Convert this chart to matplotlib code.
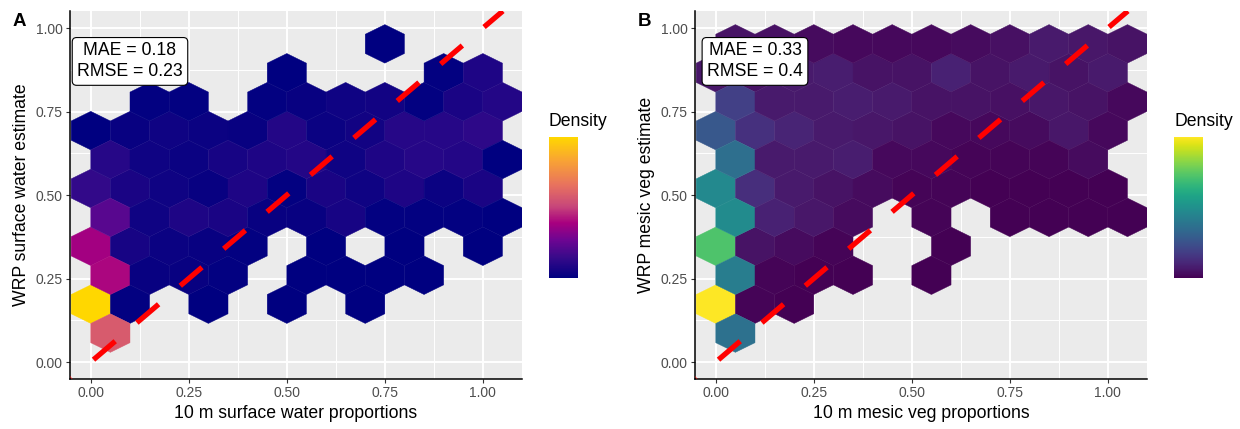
import numpy as np
import matplotlib
matplotlib.use("Agg")
import matplotlib.pyplot as plt
from matplotlib.colors import LinearSegmentedColormap

plt.rcParams['font.family'] = ['Liberation Sans', 'DejaVu Sans']

# ------------------------------------------------------------------ data
# centre height of each hexagon row (same lattice in both panels)
ROW_Y = [0.087, 0.173, 0.260, 0.346, 0.433, 0.520, 0.606, 0.693, 0.779, 0.866, 0.953]

# Panel A: surface water -- x centres of filled hexagons per row, and density
A_ROWS_X = [
    [0.05],
    [0.0, 0.1, 0.3, 0.5, 0.7],
    [0.05, 0.15, 0.25, 0.35, 0.55, 0.65, 0.75, 0.85],
    [0.0, 0.1, 0.2, 0.3, 0.4, 0.6, 0.8, 1.0],
    [0.05, 0.15, 0.25, 0.35, 0.45, 0.55, 0.65, 0.75, 0.85, 0.95, 1.05],
    [0.0, 0.1, 0.2, 0.3, 0.4, 0.5, 0.6, 0.7, 0.8, 0.9, 1.0],
    [0.05, 0.15, 0.25, 0.35, 0.45, 0.55, 0.65, 0.75, 0.85, 0.95, 1.05],
    [0.0, 0.1, 0.2, 0.3, 0.4, 0.5, 0.6, 0.7, 0.8, 0.9, 1.0],
    [0.15, 0.25, 0.45, 0.55, 0.65, 0.75, 0.85, 0.95, 1.05],
    [0.5, 0.9, 1.0],
    [0.75],
]
A_ROWS_D = [
    [0.58],
    [1.00, 0.01, 0.00, 0.00, 0.00],
    [0.40, 0.02, 0.02, 0.01, 0.00, 0.00, 0.00, 0.00],
    [0.38, 0.06, 0.03, 0.02, 0.01, 0.00, 0.00, 0.00],
    [0.22, 0.04, 0.08, 0.07, 0.02, 0.02, 0.06, 0.01, 0.01, 0.01, 0.00],
    [0.13, 0.07, 0.04, 0.02, 0.08, 0.01, 0.07, 0.04, 0.08, 0.03, 0.07],
    [0.10, 0.04, 0.03, 0.06, 0.08, 0.09, 0.04, 0.08, 0.10, 0.09, 0.00],
    [0.00, 0.02, 0.04, 0.03, 0.02, 0.09, 0.03, 0.05, 0.10, 0.10, 0.12],
    [0.01, 0.01, 0.01, 0.02, 0.04, 0.05, 0.01, 0.07, 0.09],
    [0.00, 0.01, 0.08],
    [0.00],
]

# Panel B: mesic vegetation
B_ROWS_X = [
    [0.05],
    [0.0, 0.1, 0.2],
    [0.05, 0.15, 0.25, 0.35, 0.55],
    [0.0, 0.1, 0.2, 0.3, 0.6],
    [0.05, 0.15, 0.25, 0.35, 0.55, 0.75, 0.85, 0.95, 1.05],
    [0.0, 0.1, 0.2, 0.3, 0.4, 0.5, 0.6, 0.7, 0.8, 0.9, 1.0],
    [0.05, 0.15, 0.25, 0.35, 0.45, 0.55, 0.65, 0.75, 0.85, 0.95],
    [0.0, 0.1, 0.2, 0.3, 0.4, 0.5, 0.6, 0.7, 0.8, 0.9, 1.0],
    [0.05, 0.15, 0.25, 0.35, 0.45, 0.55, 0.65, 0.75, 0.85, 0.95, 1.05],
    [0.0, 0.1, 0.2, 0.3, 0.4, 0.5, 0.6, 0.7, 0.8, 0.9, 1.0],
    [0.05, 0.15, 0.25, 0.35, 0.45, 0.55, 0.65, 0.75, 0.85, 0.95, 1.05],
]
B_ROWS_D = [
    [0.37],
    [1.00, 0.01, 0.00],
    [0.42, 0.01, 0.00, 0.00, 0.00],
    [0.72, 0.05, 0.03, 0.01, 0.00],
    [0.48, 0.09, 0.06, 0.03, 0.01, 0.00, 0.00, 0.00, 0.00],
    [0.47, 0.13, 0.07, 0.05, 0.03, 0.01, 0.01, 0.00, 0.00, 0.00, 0.00],
    [0.36, 0.07, 0.07, 0.08, 0.02, 0.02, 0.01, 0.01, 0.01, 0.03],
    [0.27, 0.14, 0.10, 0.07, 0.06, 0.05, 0.02, 0.02, 0.03, 0.06, 0.02],
    [0.19, 0.07, 0.07, 0.08, 0.07, 0.05, 0.05, 0.04, 0.06, 0.05, 0.02],
    [0.06, 0.05, 0.07, 0.08, 0.05, 0.05, 0.09, 0.05, 0.07, 0.05, 0.07],
    [0.05, 0.04, 0.03, 0.02, 0.02, 0.02, 0.03, 0.04, 0.07, 0.06, 0.05],
]

A_LABEL = "MAE = 0.18\nRMSE = 0.23"
B_LABEL = "MAE = 0.33\nRMSE = 0.4"
A_XLABEL = "10 m surface water proportions"
A_YLABEL = "WRP surface water estimate"
B_XLABEL = "10 m mesic veg proportions"
B_YLABEL = "WRP mesic veg estimate"
TICKS = [0.0, 0.25, 0.5, 0.75, 1.0]
TICK_LABELS = ["0.00", "0.25", "0.50", "0.75", "1.00"]
ABLINE_INTERCEPT, ABLINE_SLOPE = 0.0, 1.0

# ------------------------------------------------------------------ styling
W, H = 1240, 429
cmap_a = LinearSegmentedColormap.from_list("swater", [
    (0.00, "#000080"), (0.15, "#3A0A8A"), (0.27, "#6E0592"), (0.39, "#A8007F"),
    (0.51, "#C8477A"), (0.66, "#E8725E"), (0.83, "#F8A235"), (1.00, "#FFD700")])
cmap_b = plt.get_cmap("viridis")

fig = plt.figure(figsize=(W / 100, H / 100), dpi=100)


def flatten(rows_x, rows_d):
    xs, ys, ds = [], [], []
    for yv, xr, dr in zip(ROW_Y, rows_x, rows_d):
        xs += list(xr)
        ys += [yv] * len(xr)
        ds += list(dr)
    return np.array(xs), np.array(ys), np.array(ds)


def panel(left_px, rows_x, rows_d, cmap, label, xlabel, ylabel, letter, cbar_left_px):
    ax = fig.add_axes([left_px / W, 1 - 378.5 / H, 451.7 / W, 367.5 / H])
    ax.set_facecolor("#EBEBEB")
    x, y, d = flatten(rows_x, rows_d)
    sy = 2 * 0.0866
    hb = ax.hexbin(x, y, C=d, gridsize=(11, 6), extent=(0, 1.1, 0, 6 * sy),
                   reduce_C_function=np.max, mincnt=1, cmap=cmap, vmin=0, vmax=1,
                   edgecolors="face", linewidths=0.3, zorder=2)
    ax.set_xlim(-0.053, 1.099)
    ax.set_ylim(-0.0494, 1.051)
    ax.set_xticks(TICKS)
    ax.set_xticklabels(TICK_LABELS)
    ax.set_yticks(TICKS)
    ax.set_yticklabels(TICK_LABELS)
    ax.set_xticks([0.125, 0.375, 0.625, 0.875], minor=True)
    ax.set_yticks([0.125, 0.375, 0.625, 0.875], minor=True)
    ax.grid(which="major", color="white", lw=1.4)
    ax.grid(which="minor", color="white", lw=0.7)
    ax.set_axisbelow(True)
    ax.tick_params(which="minor", length=0)
    ax.tick_params(which="major", length=2.75, width=0.8, color="#333333",
                   labelsize=10, labelcolor="#4D4D4D", pad=2.5)
    for s in ("top", "right"):
        ax.spines[s].set_visible(False)
    for s in ("left", "bottom"):
        ax.spines[s].set_color("black")
        ax.spines[s].set_linewidth(1.1)
    ax.axline((0, ABLINE_INTERCEPT), slope=ABLINE_SLOPE, color="#FF0000", lw=3.8,
              linestyle=(5.3, (5.4, 5.4)), zorder=3)
    ax.text(0.1, 0.9, label, ha="center", va="center", multialignment="center",
            fontsize=12.7, linespacing=1.3, zorder=4,
            bbox=dict(boxstyle="round,pad=0.28,rounding_size=0.25", fc="white",
                      ec="black", lw=0.8))
    ax.set_xlabel(xlabel, fontsize=12.7, labelpad=4)
    ax.set_ylabel(ylabel, fontsize=12.7, labelpad=4)
    fig.text((left_px - 57) / W, 1 - 22 / H, letter, fontsize=13.5, fontweight="bold",
             ha="left", va="center")
    cax = fig.add_axes([cbar_left_px / W, 1 - 278 / H, 29 / W, 141 / H])
    cb = fig.colorbar(hb, cax=cax)
    cb.set_ticks([])
    cb.outline.set_visible(False)
    fig.text(cbar_left_px / W, 1 - 121 / H, "Density", fontsize=12.7,
             ha="left", va="center")
    return ax


panel(70, A_ROWS_X, A_ROWS_D, cmap_a, A_LABEL, A_XLABEL, A_YLABEL, "A", 549)
panel(695, B_ROWS_X, B_ROWS_D, cmap_b, B_LABEL, B_XLABEL, B_YLABEL, "B", 1174)

fig.savefig("out.png", dpi=100)
